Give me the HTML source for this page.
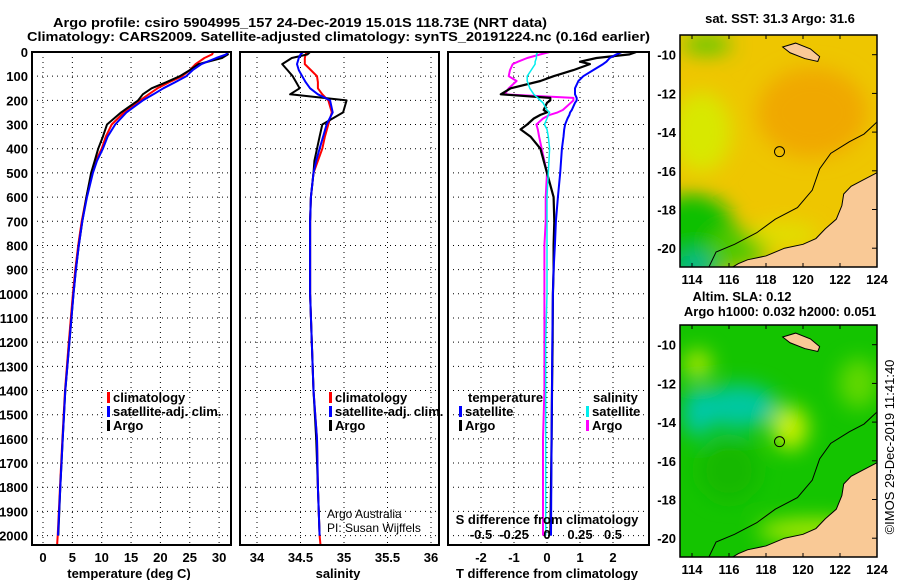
<!DOCTYPE html>
<html><head><meta charset="utf-8"><style>
html,body{margin:0;padding:0;background:#fff;}
svg text{font-family:"Liberation Sans",Arial,sans-serif;}
.b{font-weight:bold;font-size:13px;}
</style></head><body>
<svg id="c" width="900" height="580" xmlns="http://www.w3.org/2000/svg"></svg>
<script>
// ---------- data ----------
const depths = [0,10,25,50,75,100,125,150,175,200,250,300,350,400,450,500,600,700,800,900,1000,1200,1400,1600,1800,2000];
const tempClim = [29.0,28.8,27.5,26,25,23.7,21.5,19.5,18,16.5,13.8,11.7,10.7,10,9,8.3,7.4,6.6,6,5.5,5.1,4.4,3.75,3.3,2.9,2.5];
const tempSat  = [31.5,31.2,29.5,27,25.5,24.4,22.5,20.5,18.8,17,14.2,12.3,11,10.2,9.2,8.5,7.5,6.7,6.1,5.6,5.2,4.5,3.8,3.35,2.95,2.55];
const tempArgo = [31.3,31.5,30.5,26.5,25,23.3,21,18.5,17,16.2,13.3,10.9,10.2,9.4,8.8,8.2,7.4,6.7,6.1,5.6,5.2,4.5,3.8,3.35,2.95,2.6];
const salClim = [34.57,34.56,34.55,34.55,34.62,34.69,34.70,34.70,34.75,34.82,34.86,34.82,34.78,34.75,34.70,34.65,34.62,34.61,34.61,34.61,34.61,34.63,34.65,34.69,34.70,34.72];
const salSat  = [34.53,34.50,34.48,34.46,34.48,34.52,34.56,34.61,34.70,34.84,34.87,34.80,34.76,34.72,34.68,34.65,34.62,34.61,34.61,34.61,34.61,34.63,34.65,34.69,34.70,34.72];
const salArgo = [34.61,34.58,34.40,34.29,34.35,34.41,34.45,34.49,34.38,35.03,34.99,34.75,34.72,34.69,34.66,34.65,34.62,34.61,34.61,34.61,34.61,34.63,34.65,34.68,34.70,34.72];
const diffDepths = [0,10,25,40,50,75,100,120,150,175,190,200,210,240,250,260,275,300,320,350,400,500,600,700,800,900,1000,1200,1400,1600,1800,2000];
const dTSat  = [2.27,2.1,1.9,1.8,1.7,1.4,1.1,0.95,0.85,0.85,0.9,0.9,0.85,0.75,0.7,0.68,0.62,0.55,0.52,0.5,0.45,0.4,0.33,0.27,0.24,0.2,0.18,0.16,0.15,0.14,0.13,0.12];
const dTArgo = [2.7,2.5,1.5,1.0,1.3,0.8,0.2,-0.2,-1.1,-1.4,0.1,0.1,0.0,-0.1,0.0,-0.2,-0.4,-0.6,-0.8,-0.5,-0.2,0.0,0.2,0.22,0.2,0.2,0.18,0.17,0.15,0.14,0.12,0.1];
const dSSat  = [-0.07,-0.08,-0.08,-0.09,-0.09,-0.12,-0.15,-0.15,-0.13,-0.1,-0.07,-0.05,-0.03,0.0,0.02,0.01,0.0,-0.02,0.0,0.01,0.02,0.01,0.0,0.0,0.0,0.0,0.0,-0.01,-0.01,-0.01,-0.01,-0.01];
const dSArgo = [0.02,-0.05,-0.15,-0.22,-0.26,-0.28,-0.29,-0.23,-0.29,-0.32,0.2,0.2,0.18,0.12,0.08,0.02,-0.03,-0.08,-0.07,-0.06,-0.04,0.0,-0.01,-0.01,-0.02,-0.02,-0.02,-0.02,-0.02,-0.03,-0.03,-0.03];
const depthTicks = [0,100,200,300,400,500,600,700,800,900,1000,1100,1200,1300,1400,1500,1600,1700,1800,1900,2000];
const tempTicks = [0,5,10,15,20,25,30];
const salTicks = [34,34.5,35,35.5,36];
const salTickLabels = ["34","34.5","35","35.5","36"];
const dTTicks = [-2,-1,0,1,2];
const dSTicks = [-0.5,-0.25,0,0.25,0.5];
const dSTickLabels = ["-0.5","-0.25","0","0.25","0.5"];
const lonTicks = [114,116,118,120,122,124];
const latTicks = [-10,-12,-14,-16,-18,-20];
const argoPos = [118.73,-15.01];

// ---------- helpers ----------
const NS="http://www.w3.org/2000/svg";
const svg=document.getElementById('c');
function el(tag,attrs,parent){const e=document.createElementNS(NS,tag);for(const k in attrs)e.setAttribute(k,attrs[k]);(parent||svg).appendChild(e);return e;}
function txt(x,y,s,cls,anchor,parent){const t=el('text',{x:x,y:y,'text-anchor':anchor||'start'},parent);if(cls)t.setAttribute('class',cls);t.textContent=s;return t;}
const yD = d => 52 + d*0.2418;
const PB = 545;
const xT = v => 43 + 5.87*v;
const xS = v => 257 + 87*(v-34);
const xDT = v => 547 + 33*v;
const xDS = v => 547 + 132*v;

function panel(name){
  const g=el('g',{});
  
  
  return g;
}
function frame(g,x0,x1){el('rect',{x:x0,y:52,width:x1-x0,height:PB-52,fill:'none',stroke:'#000','stroke-width':2},g);}
function hgrid(g,x0,x1){depthTicks.forEach(d=>{el('line',{x1:x0,x2:x1,y1:yD(d),y2:yD(d),stroke:'#000','stroke-width':1,'stroke-dasharray':'1,4'},g);});}
function vgrid(g,xs){xs.forEach(x=>{el('line',{x1:x,x2:x,y1:52,y2:PB,stroke:'#000','stroke-width':1,'stroke-dasharray':'1,4'},g);});}
function line(g,xs,ys,col,name,w){
  const pts=xs.map((v,i)=>v.toFixed(1)+','+ys[i].toFixed(1)).join(' ');
  const p=el('polyline',{points:pts,fill:'none',stroke:col,'stroke-width':w||2,'stroke-linejoin':'round'},g);
  
  
  return p;
}
function legend(g,x,y,col,label){
  const r=el('rect',{x:x,y:y-10,width:3,height:11,fill:col},g);
  
  
  const t=txt(x+6,y,label,'b','start',g);
  
  
}

// ---------- titles ----------
let t=txt(53,27,'Argo profile: csiro 5904995_157 24-Dec-2019 15.01S 118.73E (NRT data)','b','start');
t.setAttribute('font-size','14');t.setAttribute('textLength','494');t.setAttribute('lengthAdjust','spacingAndGlyphs');

t=txt(27,41,'Climatology: CARS2009. Satellite-adjusted climatology: synTS_20191224.nc (0.16d earlier)','b','start');
t.setAttribute('font-size','14');t.setAttribute('textLength','623');t.setAttribute('lengthAdjust','spacingAndGlyphs');


const yl=el('g',{});
depthTicks.forEach(d=>{txt(28,yD(d)+5,String(d),'b','end',yl);});

const dyd=depths.map(yD);

// ---------- panel 1: temperature ----------
let g=panel('temperature-panel');
vgrid(g,tempTicks.map(xT));hgrid(g,32,231);
line(g,[...tempClim,2.4].map(xT),[...dyd,PB],'#f00','temp-climatology-line');
line(g,tempArgo.map(xT),dyd,'#000','temp-argo-line');
line(g,tempSat.map(xT),dyd,'#00f','temp-satellite-line');
frame(g,32,231);
tempTicks.forEach(v=>txt(xT(v),562,String(v),'b','middle',g));
t=txt(129,578,'temperature (deg C)','b','middle',g);
legend(g,107,402,'#f00','climatology');legend(g,107,416,'#00f','satellite-adj. clim.');legend(g,107,430,'#000','Argo');

// ---------- panel 2: salinity ----------
g=panel('salinity-panel');
vgrid(g,salTicks.map(xS));hgrid(g,240,439);
line(g,[...salClim,34.73].map(xS),[...dyd,PB],'#f00','sal-climatology-line');
line(g,salArgo.map(xS),dyd,'#000','sal-argo-line');
line(g,salSat.map(xS),dyd,'#00f','sal-satellite-line');
frame(g,240,439);
salTicks.forEach((v,i)=>txt(xS(v),562,salTickLabels[i],'b','middle',g));
t=txt(338,578,'salinity','b','middle',g);
legend(g,329,402,'#f00','climatology');legend(g,329,416,'#00f','satellite-adj. clim.');legend(g,329,430,'#000','Argo');
t=txt(327,518,'Argo Australia',null,'start',g);t.setAttribute('font-size','12');
t=txt(327,532,'PI: Susan Wijffels',null,'start',g);t.setAttribute('font-size','12');

// ---------- panel 3: differences ----------
g=panel('difference-panel');
vgrid(g,dTTicks.map(xDT));hgrid(g,448,649);
const ddy=diffDepths.map(yD);
line(g,dSArgo.map(xDS),ddy,'#f0f','sal-diff-argo-line');
line(g,dTArgo.map(xDT),ddy,'#000','temp-diff-argo-line',2.2);
line(g,dTSat.map(xDT),ddy,'#00f','temp-diff-satellite-line');
line(g,dSSat.map(xDS),ddy,'#0ee','sal-diff-satellite-line',1.5);
frame(g,448,649);
t=txt(547,524,'S difference from climatology','b','middle',g);
dSTicks.forEach((v,i)=>txt(xDS(v),539,dSTickLabels[i],'b','middle',g));
dTTicks.forEach(v=>txt(xDT(v),562,String(v),'b','middle',g));
t=txt(547,578,'T difference from climatology','b','middle',g);
txt(468,402,'temperature','b','start',g);
legend(g,459,416,'#00f','satellite');legend(g,459,430,'#000','Argo');
txt(593,402,'salinity','b','start',g);
legend(g,586,416,'#0ee','satellite');legend(g,586,430,'#f0f','Argo');

// ---------- maps ----------
const coast=[[115.8,-21.2],[116.5,-20.8],[117,-20.6],[118,-20.4],[119,-20.0],[120,-19.8],[120.7,-19.5],[121.2,-19.0],[121.8,-18.5],[122.1,-17.8],[122.2,-17.2],[122.6,-16.8],[123.2,-16.5],[123.6,-16.3],[124.2,-16.0],[124.2,-21.2]];
const island=[[118.9,-9.6],[119.6,-9.4],[120.4,-9.7],[120.9,-10.1],[120.8,-10.35],[120.1,-10.2],[119.3,-9.9]];
const shelf=[[114.8,-21.2],[115.3,-20.2],[116.3,-19.8],[117.5,-19.2],[118.5,-18.5],[119.7,-17.9],[120.5,-17.0],[120.9,-15.9],[121.5,-15.1],[122.5,-14.5],[123.3,-14.1],[124.2,-13.3]];
const defs=el('defs',{});
const f=el('filter',{id:'blur',x:'-50%',y:'-50%',width:'200%',height:'200%'},defs);el('feGaussianBlur',{stdDeviation:10},f);
function map(top,name,bgParts){
  const L=680,R=877,B=top+232;
  const lat10 = top+19.7;
  const X=lon=>692+18.5*(lon-114);
  const Y=lat=>lat10+19.35*(-10-lat);
  const gm=el('g',{});
  const cid='clip'+top;
  const cp=el('clipPath',{id:cid},defs);el('rect',{x:L,y:top,width:R-L,height:B-top},cp);
  const inner=el('g',{'clip-path':'url(#'+cid+')'},gm);
  bgParts(inner,X,Y,L,R,top,B);
  const land=el('polygon',{points:coast.map(p=>X(p[0])+','+Y(p[1])).join(' '),fill:'#f9c996',stroke:'#000','stroke-width':1},inner);
  
  el('polygon',{points:island.map(p=>X(p[0])+','+Y(p[1])).join(' '),fill:'#f9c996',stroke:'#000','stroke-width':1},inner);
  el('polyline',{points:shelf.map(p=>X(p[0])+','+Y(p[1])).join(' '),fill:'none',stroke:'#000','stroke-width':1},inner);
  const mk=el('circle',{cx:X(argoPos[0]),cy:Y(argoPos[1]),r:5,fill:'none',stroke:'#000','stroke-width':1},gm);
  
  el('rect',{x:L,y:top,width:R-L,height:B-top,fill:'none',stroke:'#000','stroke-width':1.5},gm);
  lonTicks.forEach(v=>{el('line',{x1:X(v),x2:X(v),y1:top,y2:top+4,stroke:'#000'},gm);el('line',{x1:X(v),x2:X(v),y1:B,y2:B-4,stroke:'#000'},gm);txt(X(v),B+17,String(v),'b','middle',gm);});
  latTicks.forEach(v=>{el('line',{x1:R,x2:R-5,y1:Y(v),y2:Y(v),stroke:'#000'},gm);txt(676,Y(v)+5,String(v),'b','end',gm);});
  return gm;
}
map(35,'sst-map',(g,X,Y,L,R,T,B)=>{
  el('rect',{x:L-30,y:T-30,width:R-L+60,height:B-T+60,fill:'#eec600'},g);
  const gb=el('g',{filter:'url(#blur)'},g);
  el('ellipse',{cx:X(120.5),cy:Y(-13),rx:55,ry:45,fill:'#f0a800'},gb);
  el('ellipse',{cx:X(114.5),cy:Y(-14),rx:30,ry:40,fill:'#d8e800'},gb);
  el('ellipse',{cx:X(114),cy:Y(-19.5),rx:45,ry:45,fill:'#10c000'},gb);
  el('ellipse',{cx:X(116.5),cy:Y(-20),rx:30,ry:20,fill:'#50c800'},gb);
  el('ellipse',{cx:X(114.2),cy:Y(-21),rx:18,ry:15,fill:'#00b890'},gb);
  el('ellipse',{cx:X(114.8),cy:Y(-9.5),rx:25,ry:8,fill:'#40c800'},gb);
  el('ellipse',{cx:X(119),cy:Y(-19.3),rx:35,ry:12,fill:'#e0e000'},gb);
});
map(325,'sla-map',(g,X,Y,L,R,T,B)=>{
  el('rect',{x:L-30,y:T-30,width:R-L+60,height:B-T+60,fill:'#14c400'},g);
  const gb=el('g',{filter:'url(#blur)'},g);
  el('ellipse',{cx:X(116.5),cy:Y(-13.2),rx:40,ry:22,fill:'#00c8a0'},gb);
  el('ellipse',{cx:X(114.3),cy:Y(-13.5),rx:15,ry:25,fill:'#00c8a8'},gb);
  el('ellipse',{cx:X(114.3),cy:Y(-11),rx:14,ry:14,fill:'#b0e800'},gb);
  el('ellipse',{cx:X(119.3),cy:Y(-14.3),rx:18,ry:22,fill:'#c8f000'},gb);
  el('ellipse',{cx:X(120.5),cy:Y(-19.6),rx:55,ry:12,fill:'#a8e800'},gb);
  el('ellipse',{cx:X(123),cy:Y(-12),rx:20,ry:25,fill:'#60d800'},gb);
  el('ellipse',{cx:X(116),cy:Y(-16.5),rx:30,ry:30,fill:'#18b800'},gb);
});
t=txt(780,23,'sat. SST: 31.3 Argo: 31.6','b','middle');
t=txt(742,301,'Altim. SLA: 0.12','b','middle');
t=txt(780,316,'Argo h1000: 0.032 h2000: 0.051','b','middle');
t=txt(0,0,'©IMOS 29-Dec-2019 11:41:40',null,'middle');t.setAttribute('font-size','13');t.setAttribute('transform','translate(894,447) rotate(-90)');

</script>
</body></html>
